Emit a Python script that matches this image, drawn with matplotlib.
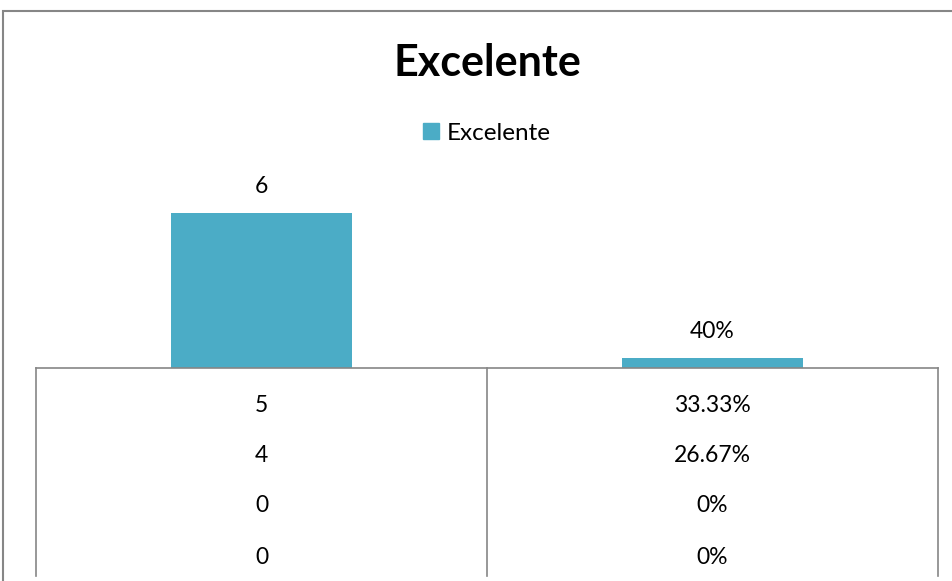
import matplotlib
matplotlib.use("Agg")
import matplotlib.pyplot as plt
import matplotlib.transforms as mtransforms
from matplotlib.lines import Line2D
from matplotlib.patches import Rectangle

plt.rcParams["font.family"] = ["Lato", "DejaVu Sans"]

title = "Excelente"
series_name = "Excelente"
values = [6, 0.4]
value_labels = ["6", "40%"]
category_rows = [
    ["5", "4", "0", "0"],
    ["33.33%", "26.67%", "0%", "0%"],
]

W, H = 953, 581
bar_color = "#4BACC6"
grid_gray = "#868686"

fig = plt.figure(figsize=(W / 100, H / 100), dpi=100)
ax = fig.add_axes([36 / W, 1 - 368 / H, (938 - 36) / W, (368 - 161) / H])

x = list(range(len(values)))
bars = ax.bar(x, values, width=0.4, color=bar_color, label=series_name)
for rect, lab in zip(bars, value_labels):
    ax.annotate(lab, (rect.get_x() + rect.get_width() / 2, rect.get_height()),
                xytext=(0, 11), textcoords="offset points", ha="center", va="bottom",
                fontsize=16.5, color="black")

ax.set_xlim(-0.5, len(values) - 0.5)
ax.set_ylim(0, 8)
ax.set_xticks([])
ax.set_yticks([])
for side in ("top", "left", "right"):
    ax.spines[side].set_visible(False)
ax.spines["bottom"].set_color(grid_gray)
ax.spines["bottom"].set_linewidth(1.2)

# multi-row category labels below the axis
blend = mtransforms.blended_transform_factory(ax.transData, fig.transFigure)
row_y = [405, 455, 505, 557]
for i in x:
    for ry, lab in zip(row_y, category_rows[i]):
        fig.text(i, 1 - ry / H, lab, transform=blend, ha="center", va="center",
                 fontsize=16.5, color="black")
for xb in [-0.5 + k for k in range(len(values) + 1)]:
    fig.add_artist(Line2D([xb, xb], [1 - 368 / H, 1 - 576 / H], transform=blend,
                          color=grid_gray, lw=1.2))

fig.text(0.5 * (36 + 938) / W, 1 - 63 / H, title, ha="center", va="center",
         fontsize=31, fontweight="bold")
fig.legend(handles=[Rectangle((0, 0), 1, 1, color=bar_color)], labels=[series_name],
           loc="center", bbox_to_anchor=(487 / W, 1 - 133 / H), frameon=False,
           fontsize=17.5, handlelength=0.65, handleheight=0.65, handletextpad=0.3)

# chart frame
fig.add_artist(Rectangle((3 / W, -0.1), 1.2, 1 - 11 / H + 0.1, transform=fig.transFigure,
                         fill=False, edgecolor=grid_gray, lw=1.5))

fig.savefig("out.png", dpi=100)
